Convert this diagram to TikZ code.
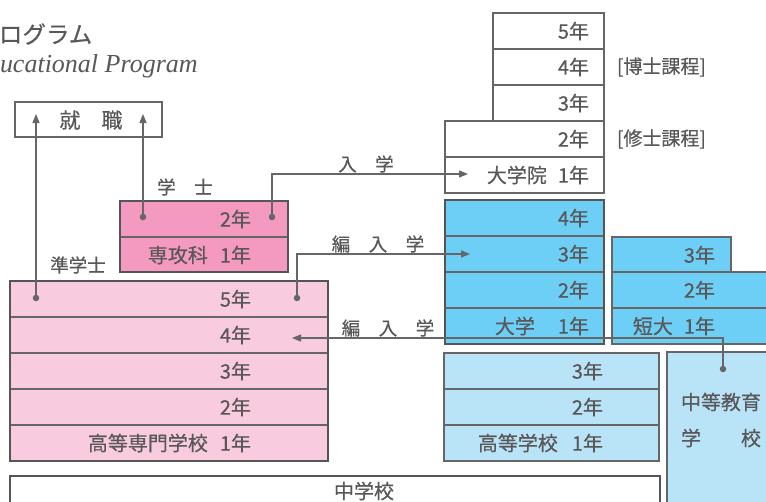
\documentclass[tikz,border=0pt]{standalone}
\usepackage{fontspec}
\setmainfont{Liberation Serif}
\newfontfamily\jp{Noto Sans CJK JP}[FakeBold=0.4]
\usetikzlibrary{arrows.meta}
\definecolor{tx}{HTML}{595757}
\definecolor{ln}{HTML}{666666}
\definecolor{fr}{HTML}{555555}
\definecolor{pk}{HTML}{F49AC1}
\definecolor{lpk}{HTML}{F8CBDF}
\definecolor{bl}{HTML}{6DCFF6}
\definecolor{lbl}{HTML}{B9E4F8}
\begin{document}
\begin{tikzpicture}[x=1pt,y=-1pt,
  every node/.style={inner sep=0pt, outer sep=0pt},
  jpt/.style={font=\jp\fontsize{20}{20}\selectfont, text=tx},
  lab/.style={font=\jp\fontsize{18.5}{18.5}\selectfont, text=tx},
  cell/.style={draw=ln, line width=1.3pt, anchor=north west, minimum height=36pt},
  frame/.style={draw=fr, line width=2.6pt},
  conn/.style={draw=ln, line width=1.3pt},
  tip/.style={-{Triangle[length=9pt,width=7pt]}},
  dot/.style={circle, fill=ln, minimum size=6.5pt, inner sep=0pt}
]
\useasboundingbox (0,0) rectangle (766,501);
\clip (0,0) rectangle (766,501);
\fill[white] (0,0) rectangle (766,501);

% title
\node[font=\jp\fontsize{23.5}{23.5}\selectfont, text=tx, anchor=west] (title) at (-1,34) {ログラム};
\node[font=\fontsize{26}{26}\selectfont\itshape, text=tx, anchor=base west] (subtitle) at (0,72) {ucational Program};

% 就職
\node[cell, minimum width=147pt, minimum height=35pt] (sj) at (15,102) {};
\node[font=\jp\fontsize{21}{21}\selectfont, text=tx] (sjt) at (91,120) {就　職};

% 大学院
\node[cell, fill=white, minimum width=111pt] (g5) at (493,13) {};
\node[cell, fill=white, minimum width=111pt] (g4) at (493,49) {};
\node[cell, fill=white, minimum width=111pt] (g3) at (493,85) {};
\node[cell, fill=white, minimum width=159pt] (g2) at (445,121) {};
\node[cell, fill=white, minimum width=159pt] (g1) at (445,157) {};
\node[jpt, anchor=east] (g5t) at (589,31) {5年};
\node[jpt, anchor=east] (g4t) at (589,67) {4年};
\node[jpt, anchor=east] (g3t) at (589,103) {3年};
\node[jpt, anchor=east] (g2t) at (589,139) {2年};
\node[jpt, anchor=east] (g1t) at (589,175) {大学院\hspace{0.55em}1年};
\node[font=\jp\fontsize{19}{19}\selectfont, text=tx, anchor=west] (hak) at (617,67) {[博士課程]};
\node[font=\jp\fontsize{19}{19}\selectfont, text=tx, anchor=west] (shu) at (617,139) {[修士課程]};

% 大学
\node[cell, fill=bl, minimum width=159pt] (u4) at (445,200) {};
\node[cell, fill=bl, minimum width=159pt] (u3) at (445,236) {};
\node[cell, fill=bl, minimum width=159pt] (u2) at (445,272) {};
\node[cell, fill=bl, minimum width=159pt] (u1) at (445,308) {};
\draw[draw=fr, line width=2pt] (u4.north west) rectangle (u1.south east);
\node[jpt, anchor=east] (u4t) at (589,218) {4年};
\node[jpt, anchor=east] (u3t) at (589,254) {3年};
\node[jpt, anchor=east] (u2t) at (589,290) {2年};
\node[jpt, anchor=east] (u1t) at (589,326) {大学\hspace{1.15em}1年};

% 短大
\node[cell, fill=bl, minimum width=119pt, minimum height=35pt] (t3) at (612,237) {};
\node[cell, fill=bl, minimum width=200pt] (t2) at (612,272) {};
\node[cell, fill=bl, minimum width=200pt] (t1) at (612,308) {};
\node[jpt, anchor=east] (t3t) at (715,255) {3年};
\node[jpt, anchor=east] (t2t) at (715,290) {2年};
\node[jpt, anchor=east] (t1t) at (715,326) {短大\hspace{0.55em}1年};

% 高等学校
\node[cell, fill=lbl, minimum width=215pt] (h3) at (444,353) {};
\node[cell, fill=lbl, minimum width=215pt] (h2) at (444,389) {};
\node[cell, fill=lbl, minimum width=215pt] (h1) at (444,425) {};
\node[jpt, anchor=east] (h3t) at (603,371) {3年};
\node[jpt, anchor=east] (h2t) at (603,407) {2年};
\node[jpt, anchor=east] (h1t) at (603,443) {高等学校\hspace{0.7em}1年};

% 中等教育学校
\node[cell, fill=lbl, minimum width=150pt, minimum height=200pt] (cj) at (667,352) {};
\node[jpt, anchor=west] (cjt1) at (681,402) {中等教育};
\node[jpt, anchor=west] (cjt2) at (681,438) {学　　校};

% 中学校
\node[cell, fill=white, minimum width=650pt, minimum height=60pt, draw=fr, line width=2.6pt] (cg) at (10,476) {};
\node[jpt] (cgt) at (364,491) {中学校};

% 高専
\node[cell, fill=lpk, minimum width=318pt] (k5) at (10,281) {};
\node[cell, fill=lpk, minimum width=318pt] (k4) at (10,317) {};
\node[cell, fill=lpk, minimum width=318pt] (k3) at (10,353) {};
\node[cell, fill=lpk, minimum width=318pt] (k2) at (10,389) {};
\node[cell, fill=lpk, minimum width=318pt] (k1) at (10,425) {};
\draw[frame] (k5.north west) rectangle (k1.south east);
\node[jpt, anchor=east] (k5t) at (251,299) {5年};
\node[jpt, anchor=east] (k4t) at (251,335) {4年};
\node[jpt, anchor=east] (k3t) at (251,371) {3年};
\node[jpt, anchor=east] (k2t) at (251,407) {2年};
\node[jpt, anchor=east] (k1t) at (251,443) {高等専門学校\hspace{0.6em}1年};

% 専攻科
\node[cell, fill=pk, minimum width=168pt] (s2) at (120,201) {};
\node[cell, fill=pk, minimum width=168pt, minimum height=35pt] (s1) at (120,237) {};
\draw[frame] (s2.north west) rectangle (s1.south east);
\node[jpt, anchor=east] (s2t) at (251,219) {2年};
\node[jpt, anchor=east] (s1t) at (251,255) {専攻科\hspace{0.6em}1年};

% labels
\node[lab] (gakushi) at (185,187) {学　士};
\node[lab] (jungakushi) at (78,265) {準学士};
\node[lab] (nyu) at (366,164) {入　学};
\node[lab] (hen1) at (378,244) {編　入　学};
\node[lab] (hen2) at (388,328) {編　入　学};

% dots and arrow ends
\node[dot] (d1) at (36,298) {};
\node[dot] (d2) at (143,217) {};
\node[dot] (d3) at (272,217) {};
\node[dot] (d4) at (297,298) {};
\node[dot] (d5) at (723,369) {};
\coordinate (a1) at (36,114);
\coordinate (a2) at (143,114);
\coordinate (a3) at (468,174);
\coordinate (a4) at (470,254);
\coordinate (a5) at (292,338);

\draw[conn, tip] (d1.center) -- (a1);
\draw[conn, tip] (d2.center) -- (a2);
\draw[conn, tip] (d3.center) |- (a3);
\draw[conn, tip] (d4.center) |- (a4);
\draw[conn, tip] (d5.center) |- (a5);
\end{tikzpicture}
\end{document}
